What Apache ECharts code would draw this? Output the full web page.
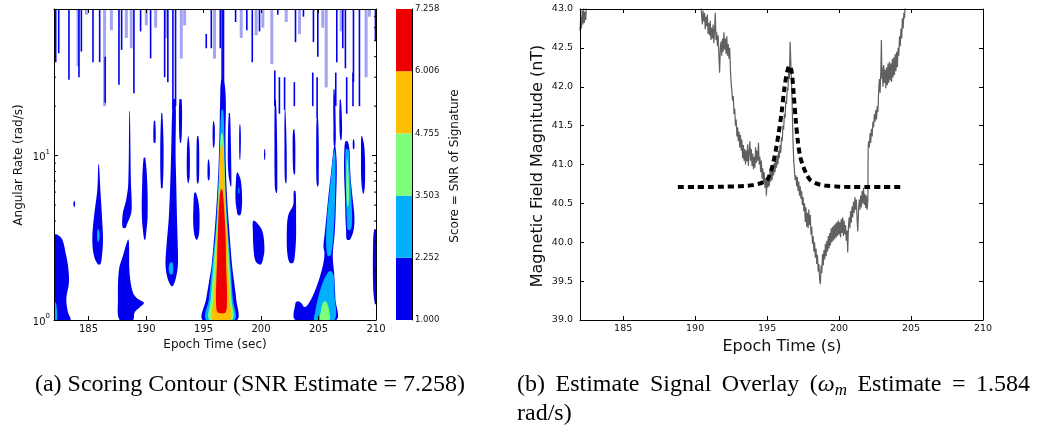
<!DOCTYPE html>
<html><head><meta charset="utf-8">
<script src="https://cdn.jsdelivr.net/npm/echarts@6/dist/echarts.min.js"></script>
<style>html,body{margin:0;padding:0;background:#fff}#c{width:1039px;height:431px}</style>
</head><body><div id="c"></div>
<script>
// ---------- data ----------
const xTicks = [185, 190, 195, 200, 205, 210];
const rateMinorTicks = [2, 3, 4, 5, 6, 7, 8, 9, 20, 30, 40, 50, 60, 70];
const scoreLevels = [1.000, 2.252, 3.503, 4.755, 6.006, 7.258];
const levelColors = ['#0000ee', '#00b0ff', '#7dff7a', '#ffbf00', '#ee0000'];

// contour regions: profiles are rows [rate, timeLeft, timeRight]; polygons are [time, rate]
const blueProfiles = [
  [[1.00,194.94,197.90],[1.34,195.23,197.84],[1.69,195.47,197.67],[2.13,195.70,197.49],[3.39,195.96,197.26],[5.41,196.16,197.06],[8.62,196.31,196.94],[13.7,196.39,196.91],[21.9,196.45,196.94],[28.9,196.54,196.77]],
  [[1.00,182.0,183.42],[1.11,182.0,183.22],[1.34,182.0,183.07],[1.69,182.0,183.3],[2.13,182.0,183.22],[2.56,182.0,183.01],[3.09,182.0,182.72],[3.3,182.0,182.3]],
  [[2.18,185.82,186.03],[2.45,185.48,186.17],[3.09,185.33,186.26],[4.28,185.48,186.17],[6.22,185.77,186.03],[8.82,185.85,185.91]],
  [[3.64,187.99,188.23],[3.81,187.93,188.34],[4.49,187.99,188.72],[5.41,188.28,188.75],[6.82,188.46,188.69],[18.6,188.55,188.6]],
  [[3.09,189.85,189.94],[3.24,189.79,189.99],[4.28,189.64,190.14],[6.82,189.67,190.11],[9.68,189.79,189.94]],
  [[1.61,192.19,192.34],[1.77,191.9,192.57],[2.13,191.7,192.77],[2.69,191.76,192.77],[4.28,191.99,192.69],[6.82,192.11,192.63],[10.4,192.19,192.57],[21.9,192.34,192.57]],
  [[6.36,191.3,191.45],[10.9,191.24,191.53],[18.1,191.33,191.42]],
  [[12.0,190.66,190.83],[16.2,190.68,190.8]],
  [[6.8,193.65,193.7],[7.5,193.56,193.8],[11,193.56,193.8],[13.1,193.65,193.7]],
  [[6.8,194.45,194.55],[7.5,194.4,194.62],[11.5,194.4,194.62],[13.1,194.45,194.55]],
  [[3.09,194.35,194.45],[3.3,194.2,194.6],[4.0,194.1,194.66],[5.0,194.13,194.6],[5.94,194.2,194.35]],
  [[7.1,195.4,195.5],[7.6,195.35,195.55],[8.5,195.35,195.55],[9.46,195.4,195.47]],
  [[11.2,195.85,195.92],[12.2,195.8,195.98],[15,195.8,195.98],[16.2,195.85,195.9]],
  [[6.5,197.35,197.42],[8,197.15,197.42],[12,197.12,197.38],[18.1,197.2,197.3]],
  [[4.35,198.0,198.2],[4.6,197.9,198.3],[5.4,197.78,198.36],[7.0,197.82,198.25],[7.86,197.9,198.0]],
  [[9.5,198.13,198.2],[13,198.1,198.25],[15.4,198.13,198.2]],
  [[2.18,199.8,200.0],[2.3,199.5,200.15],[2.7,199.35,200.3],[3.5,199.29,200.1],[3.99,199.3,199.5]],
  [[9.46,200.28,200.36],[10.9,200.28,200.36]],
  [[5.94,201.3,201.38],[6.5,201.2,201.42],[12,201.17,201.4],[21.9,201.2,201.3]],
  [[6.82,202.12,202.2],[7.5,202.06,202.24],[12,202.04,202.22],[19,202.06,202.12]],
  [[2.23,202.5,202.8],[2.5,202.3,202.95],[3.2,202.24,203.05],[4.3,202.35,203.05],[5.0,202.8,203.05],[6.07,202.85,203.0]],
  [[7.7,202.85,202.95],[8.5,202.78,202.98],[12,202.75,202.98],[14.4,202.8,202.9]],
  [[6.5,204.9,204.98],[7,204.82,205.02],[12,204.8,205.02],[17.3,204.85,204.95]],
  [[11.5,206.33,206.47],[15,206.3,206.5],[25.2,206.3,206.4]],
  [[12.5,206.9,207.0],[15,206.82,207.05],[21.9,206.85,206.95]],
  [[11.0,208.0,208.12],[12.5,208.0,208.1]],
  [[3.09,207.46,207.75],[3.55,207.4,208.06],[4.28,207.34,208.12],[5.41,207.31,207.98],[6.82,207.25,207.83],[8.62,207.22,207.74],[10.9,207.25,207.69],[12.2,207.34,207.54]],
  [[5.9,208.85,208.95],[7,208.72,209.05],[11,208.7,209.0],[13.1,208.72,208.8]],
  [[1.25,209.9,210.0],[1.6,209.75,210.0],[3.0,209.75,210.0],[3.55,209.85,210.0]],
  [[4.85,183.74,183.78],[5.1,183.68,183.84],[5.3,183.74,183.78]],
  [[12.0,192.95,193.05],[14,192.88,193.12],[21.9,192.9,193.1]]
];
const bluePolygons = [
  [[188.43,3.09],[187.99,2.45],[187.65,2.03],[187.56,1.34],[187.71,1.00],[188.86,1.00],[189.01,1.11],[189.44,1.19],[189.82,1.27],[189.3,1.34],[188.86,1.47],[188.57,1.94],[188.52,2.95]],
  [[203.0,1.00],[203.0,1.27],[203.2,1.30],[203.49,1.27],[203.78,1.20],[204.07,1.24],[204.5,1.40],[204.85,1.61],[205.14,1.85],[205.43,2.23],[205.52,2.56],[205.43,2.81],[205.55,3.39],[205.72,4.49],[205.89,5.94],[206.09,7.86],[206.24,9.91],[206.36,11.4],[206.47,11.4],[206.59,8.62],[206.53,5.41],[206.41,3.39],[206.24,2.45],[206.36,1.94],[206.47,1.34],[206.53,1.00]]
];
const cyanProfiles = [
  [[1.00,195.23,197.70],[1.34,195.47,197.55],[2.13,195.75,197.35],[3.39,196.05,197.14],[5.41,196.22,196.97],[8.62,196.37,196.85],[13.7,196.45,196.80],[19.0,196.57,196.71]],
  [[1.0,182.0,182.26],[1.27,182.0,182.18]],
  [[3.0,185.8,185.9],[3.25,185.74,185.97],[3.55,185.8,185.9]],
  [[1.9,192.1,192.3],[2.05,191.97,192.37],[2.23,192.1,192.3]],
  [[3.55,207.54,207.8],[4.09,207.46,207.92],[5.41,207.4,207.86],[8.62,207.34,207.69],[10.9,207.37,207.6]],
  [[5.9,198.03,198.12],[6.4,198.05,198.1]]
];
const cyanPolygons = [
  [[206.27,9.91],[206.36,10.9],[206.47,9.91],[206.44,5.41],[206.3,3.39],[206.09,2.5],[205.8,2.45],[205.66,3.09],[205.78,4.49],[205.95,5.94],[206.12,7.86]],
  [[204.65,1.00],[204.70,1.11],[204.94,1.34],[205.37,1.69],[205.81,1.94],[206.1,1.98],[206.33,1.85],[206.38,1.47],[206.38,1.00]]
];
const greenProfiles = [
  [[1.00,195.52,197.49],[1.34,195.64,197.43],[2.13,195.87,197.26],[3.39,196.10,197.08],[5.41,196.28,196.91],[8.62,196.39,196.82],[12.5,196.48,196.74],[13.7,196.57,196.65]],
  [[4.93,207.5,207.6],[6.0,207.43,207.66],[8.0,207.42,207.6],[9.5,207.45,207.52]]
];
const greenPolygons = [
  [[205.17,1.0],[205.23,1.16],[205.37,1.27],[205.6,1.30],[205.8,1.24],[205.95,1.11],[205.95,1.0]]
];
const orangeProfiles = [
  [[1.00,195.81,197.32],[1.34,195.87,197.26],[2.13,196.05,197.14],[3.39,196.16,197.03],[5.41,196.31,196.85],[8.62,196.42,196.80],[11.4,196.51,196.68]]
];
const redProfiles = [
  [[1.11,196.25,196.91],[1.22,196.10,197.03],[1.61,196.10,197.03],[2.13,196.16,196.97],[3.39,196.25,196.91],[5.41,196.39,196.74],[6.22,196.51,196.63]]
];
// thin vertical streaks near the top: [time, rateLow, rateHigh]
const spikesDark = [
  [182.15,37,78],[182.41,42,78],[183.30,29,78],[184.17,30,78],[184.38,43,78],[185.39,37,78],[185.97,37,78],[186.45,21,40],
  [187.65,27,78],[187.88,44,78],[188.95,24,78],[189.53,57,78],[190.40,39,78],[191.62,30,78],[191.90,28,78],[192.34,19,78],
  [192.57,20,78],[195.24,45,55],[195.68,45,78],[196.46,45,78],[196.62,28,78],[196.74,28,78],[197.79,65,78],[198.77,58,78],
  [199.24,37,78],[199.87,57,78],[201.46,72,78],[203.0,49,78],[203.69,70,78],[204.56,49,78],[204.94,40,78],[206.59,37,78],
  [207.11,45,78],[207.34,34,78],[208.04,28,78],[208.56,20,78],[209.95,50,78],
  [201.2,20,33],[201.6,18,30],[202.05,19,30],[202.9,20,28],[204.5,20,32],[204.88,17,30],[206.5,20,32],[207.45,18,30],[208.0,20,32]
];
const spikesLight = [
  [184.09,35,78],[184.82,72,78],[186.40,20,78],[186.99,58,78],[188.29,52,78],[188.72,45,78],[190.03,62,78],[190.84,60,78],
  [191.77,52,78],[193.07,39,78],[193.36,62,78],[195.96,39,78],[198.28,52,78],[199.58,54,78],[200.16,60,78],[200.94,36,78],
  [202.19,65,78],[203.35,55,78],[205.37,60,78],[205.67,26,78],[206.97,57,78],[209.14,30,78],[209.43,70,78]
];

// magnetometer trace [time s, field nT]
const signalLeft = [[182.0,42.72],[182.05,42.9],[182.1,42.75],[182.15,42.98],[182.2,42.8],[182.25,43.02],[182.3,42.82],[182.35,42.96],[182.4,42.86],[182.45,43.05],[182.5,43.2]];
const signalMain = [
  [190.40,43.05],[190.45,42.92],[190.50,42.80],[190.55,42.98],[190.60,42.84],[190.65,42.95],[190.70,42.74],[190.75,42.90],[190.80,42.78],[190.85,42.93],
  [190.90,42.68],[190.95,42.82],[191.00,42.66],[191.05,42.85],[191.10,42.60],[191.15,42.76],[191.20,42.62],[191.25,42.80],[191.30,42.56],[191.35,42.72],
  [191.40,42.95],[191.45,42.60],[191.50,42.70],[191.55,42.52],[191.60,42.66],[191.65,42.40],[191.70,42.18],[191.75,42.50],[191.80,42.58],[191.85,42.40],
  [191.90,42.62],[191.95,42.45],[192.00,42.70],[192.05,42.48],[192.10,42.62],[192.15,42.42],[192.20,42.65],[192.25,42.40],[192.30,42.55],[192.35,42.36],
  [192.40,42.50],[192.45,42.22],[192.50,42.05],[192.55,41.95],[192.60,41.82],[192.65,41.88],[192.70,41.65],[192.75,41.72],[192.80,41.50],[192.85,41.58],
  [192.90,41.36],[192.95,41.48],[193.00,41.30],[193.05,41.42],[193.10,41.22],[193.15,41.38],[193.20,41.18],[193.25,41.32],[193.30,41.08],[193.35,41.25],
  [193.40,41.05],[193.45,41.20],[193.50,41.00],[193.55,41.18],[193.60,41.04],[193.65,41.26],[193.70,40.98],[193.75,41.15],[193.80,41.30],[193.85,41.05],
  [193.90,41.20],[193.95,40.98],[194.00,41.14],[194.05,40.94],[194.10,41.10],[194.15,40.96],[194.20,41.22],[194.25,41.02],[194.30,41.18],[194.35,41.05],
  [194.40,41.28],[194.45,41.00],[194.50,41.10],[194.55,40.90],[194.60,41.05],[194.65,40.82],[194.70,40.95],[194.75,40.76],[194.80,40.90],[194.85,40.70],
  [194.90,40.82],[194.95,40.60],[195.00,40.84],[195.05,40.70],[195.10,40.86],[195.15,40.72],[195.20,40.92],[195.25,40.78],[195.30,40.95],[195.35,40.80],
  [195.40,41.00],[195.45,40.86],[195.50,41.02],[195.55,40.90],[195.60,41.08],[195.65,40.96],[195.70,41.12],[195.75,41.00],[195.80,41.18],[195.85,41.08],
  [195.90,41.25],[195.95,41.15],[196.00,41.35],[196.05,41.30],[196.10,41.50],[196.15,41.45],[196.20,41.65],[196.25,41.60],[196.30,41.82],[196.35,41.78],
  [196.40,41.98],[196.45,41.95],[196.50,42.22],[196.55,42.10],[196.60,42.58],[196.65,42.30],[196.70,42.05],[196.75,41.70],[196.80,41.30],[196.85,41.05],
  [196.90,40.92],[196.95,40.80],[197.00,40.86],[197.05,40.72],[197.10,40.84],[197.15,40.66],[197.20,40.78],[197.25,40.60],[197.30,40.72],[197.35,40.56],
  [197.40,40.66],[197.45,40.48],[197.50,40.58],[197.55,40.40],[197.60,40.50],[197.65,40.26],[197.70,40.45],[197.75,40.20],[197.80,40.38],[197.85,40.18],
  [197.90,40.42],[197.95,40.22],[198.00,40.35],[198.05,40.10],[198.10,40.20],[198.15,39.98],[198.20,40.08],[198.25,39.88],[198.30,40.00],[198.35,39.80],
  [198.40,39.92],[198.45,39.72],[198.50,39.84],[198.55,39.62],[198.60,39.72],[198.65,39.52],[198.70,39.46],[198.75,39.70],[198.80,39.60],[198.85,39.85],
  [198.90,39.70],[198.95,39.90],[199.00,39.78],[199.05,39.98],[199.10,39.82],[199.15,40.02],[199.20,39.88],[199.25,40.08],[199.30,39.92],[199.35,40.12],
  [199.40,39.96],[199.45,40.18],[199.50,40.00],[199.55,40.20],[199.60,40.02],[199.65,40.22],[199.70,40.04],[199.75,40.24],[199.80,40.06],[199.85,40.26],
  [199.90,40.08],[199.95,40.28],[200.00,40.10],[200.05,40.26],[200.10,40.06],[200.15,40.30],[200.20,40.12],[200.25,40.32],[200.30,40.08],[200.35,40.28],
  [200.40,40.10],[200.45,40.22],[200.50,40.02],[200.55,40.15],[200.60,39.87],[200.65,40.20],[200.70,40.32],[200.75,40.18],[200.80,40.40],[200.85,40.25],
  [200.90,40.46],[200.95,40.32],[201.00,40.52],[201.05,40.38],[201.10,40.58],[201.15,40.42],[201.20,40.55],[201.25,40.30],[201.30,40.14],[201.35,40.40],
  [201.40,40.55],[201.45,40.42],[201.50,40.60],[201.55,40.45],[201.60,40.66],[201.65,40.50],[201.70,40.70],[201.75,40.48],[201.80,40.62],[201.85,40.44],
  [201.90,40.60],[201.95,40.42],[202.00,40.55],[202.02,41.20],[202.05,41.30],[202.10,41.22],[202.15,41.40],[202.20,41.28],[202.25,41.46],[202.30,41.36],
  [202.35,41.55],[202.40,41.48],[202.45,41.65],[202.50,41.55],[202.55,41.70],[202.60,41.58],[202.65,41.75],[202.70,41.68],[202.75,41.95],[202.80,42.10],
  [202.85,41.92],[202.90,42.20],[202.94,42.60],[202.98,42.10],[203.00,42.25],[203.05,42.00],[203.10,42.28],[203.15,42.05],[203.20,42.22],[203.25,41.98],
  [203.30,42.25],[203.35,42.02],[203.40,42.30],[203.45,42.05],[203.50,42.32],[203.55,42.08],[203.60,42.30],[203.65,42.06],[203.70,42.36],[203.75,42.12],
  [203.80,42.38],[203.85,42.15],[203.90,42.42],[203.95,42.20],[204.00,42.45],[204.05,42.25],[204.10,42.50],[204.15,42.40],[204.20,42.65],[204.25,42.52],
  [204.30,42.75],[204.35,42.62],[204.40,42.88],[204.45,42.75],[204.50,42.95],[204.55,42.88],[204.60,43.10]
];
// fitted signature overlay [time s, field nT]
const modelCurve = [
  [188.8,40.71],[190.0,40.71],[191.0,40.71],[192.0,40.715],[193.0,40.72],[193.5,40.725],[194.0,40.735],[194.4,40.75],[194.7,40.77],
  [195.0,40.80],[195.2,40.88],[195.4,41.00],[195.6,41.18],[195.8,41.40],[196.0,41.66],[196.2,41.98],[196.4,42.20],[196.55,42.27],
  [196.7,42.20],[196.85,41.90],[197.0,41.55],[197.15,41.28],[197.3,41.10],[197.5,40.98],[197.75,40.87],[198.0,40.80],[198.5,40.75],
  [199.0,40.73],[200.0,40.715],[201.0,40.71],[202.0,40.71],[203.0,40.71],[204.4,40.71]
];

// ---------- build ----------
function profileToPolygon(rows) {
  const left = rows.map(r => [r[1], r[0]]);
  const right = rows.slice().reverse().map(r => [r[2], r[0]]);
  return left.concat(right);
}
const shapes = [];
[[blueProfiles, bluePolygons], [cyanProfiles, cyanPolygons], [greenProfiles, greenPolygons], [orangeProfiles, []], [redProfiles, []]]
  .forEach(([profs, polys], lvl) => {
    profs.forEach(p => shapes.push({ lvl, pts: profileToPolygon(p) }));
    polys.forEach(p => shapes.push({ lvl, pts: p }));
  });

const SANS = '"DejaVu Sans", sans-serif';
const SERIF = '"Liberation Serif", "Times New Roman", serif';
const TXT = '#111';

function spikeSeries(data, w, color) {
  return {
    type: 'custom', xAxisIndex: 0, yAxisIndex: 0, clip: true, silent: true, z: 2,
    data: data, encode: { x: 0, y: [1, 2] },
    renderItem: (params, api) => {
      const lo = api.coord([api.value(0), api.value(1)]);
      const hi = api.coord([api.value(0), api.value(2)]);
      return { type: 'rect', shape: { x: lo[0] - w / 2, y: hi[1], width: w, height: lo[1] - hi[1] }, style: { fill: color } };
    }
  };
}

const tickCommon = { inside: true, length: 4, lineStyle: { color: '#000', width: 1 } };
const lineCommon = { show: true, lineStyle: { color: '#000', width: 1 } };

// caption (b) justified words
const capFont = '24px ' + SERIF;
const meas = document.createElement('canvas').getContext('2d');
function tw(t, f) { meas.font = f; return meas.measureText(t).width; }
const capRich = {
  w: { fontStyle: 'italic', fontSize: 24, fontFamily: SERIF, lineHeight: 28, color: '#000' },
  m: { fontStyle: 'italic', fontSize: 17, fontFamily: SERIF, lineHeight: 17, verticalAlign: 'bottom', color: '#000' }
};
const capWords = ['(b)', 'Estimate', 'Signal', 'Overlay', '(ω_m', 'Estimate', '=', '1.584'];
const capTokens = capWords.map(wd => {
  if (wd === '(ω_m') {
    return { text: '({w|ω}{m|m}', w: tw('(', capFont) + tw('ω', 'italic ' + capFont) + tw('m', 'italic 17px ' + SERIF) };
  }
  return { text: wd, w: tw(wd, capFont) };
});
const capLeft = 517, capRight = 1030;
const capGap = (capRight - capLeft - capTokens.reduce((a, t) => a + t.w, 0)) / (capTokens.length - 1);
const graphics = [];
let cx = capLeft;
capTokens.forEach(t => {
  graphics.push({ type: 'text', x: cx, y: 385, style: { text: t.text, font: capFont, fill: '#000', align: 'left', verticalAlign: 'middle', rich: capRich } });
  cx += t.w + capGap;
});
graphics.push({ type: 'text', x: 517, y: 414, style: { text: 'rad/s)', font: capFont, fill: '#000', align: 'left', verticalAlign: 'middle' } });
graphics.push({ type: 'text', x: 250, y: 385, style: { text: '(a) Scoring Contour (SNR Estimate = 7.258)', font: capFont, fill: '#000', align: 'center', verticalAlign: 'middle' } });
// axis titles
graphics.push({ type: 'text', x: 19, y: 165, rotation: Math.PI / 2, style: { text: 'Angular Rate (rad/s)', font: '12px ' + SANS, fill: TXT, align: 'center', verticalAlign: 'middle' } });
graphics.push({ type: 'text', x: 215, y: 345, style: { text: 'Epoch Time (sec)', font: '12px ' + SANS, fill: TXT, align: 'center', verticalAlign: 'middle' } });
graphics.push({ type: 'text', x: 455, y: 166, rotation: Math.PI / 2, style: { text: 'Score = SNR of Signature', font: '12px ' + SANS, fill: TXT, align: 'center', verticalAlign: 'middle' } });
graphics.push({ type: 'text', x: 538, y: 166, rotation: Math.PI / 2, style: { text: 'Magnetic Field Magnitude (nT)', font: '16px ' + SANS, fill: TXT, align: 'center', verticalAlign: 'middle' } });
graphics.push({ type: 'text', x: 782, y: 347, style: { text: 'Epoch Time (s)', font: '16px ' + SANS, fill: TXT, align: 'center', verticalAlign: 'middle' } });

const chart = echarts.init(document.getElementById('c'), null, { renderer: 'canvas', width: 1039, height: 431 });
chart.setOption({
  animation: false,
  backgroundColor: '#fff',
  grid: [
    { left: 54, top: 9, width: 322, height: 311, show: false },
    { left: 396, top: 9, width: 16, height: 311, show: false },
    { left: 580, top: 9, width: 403, height: 311, show: false }
  ],
  xAxis: [
    { gridIndex: 0, type: 'value', min: 182, max: 210, position: 'bottom', z: 5, splitLine: { show: false },
      axisLine: lineCommon, axisTick: Object.assign({ customValues: xTicks }, tickCommon),
      axisLabel: { customValues: xTicks, fontSize: 10, fontFamily: SANS, color: TXT, margin: 4 } },
    { gridIndex: 0, type: 'value', min: 182, max: 210, position: 'top', z: 5, splitLine: { show: false },
      axisLine: lineCommon, axisTick: Object.assign({ customValues: xTicks }, tickCommon), axisLabel: { show: false } },
    { gridIndex: 1, type: 'category', data: ['score'], show: false, boundaryGap: true },
    { gridIndex: 2, type: 'value', min: 182, max: 210, position: 'bottom', z: 5, splitLine: { show: false },
      axisLine: lineCommon, axisTick: Object.assign({ customValues: xTicks }, tickCommon),
      axisLabel: { customValues: xTicks, fontSize: 9.5, fontFamily: SANS, color: TXT, margin: 4 } },
    { gridIndex: 2, type: 'value', min: 182, max: 210, position: 'top', z: 5, splitLine: { show: false },
      axisLine: lineCommon, axisTick: Object.assign({ customValues: xTicks }, tickCommon), axisLabel: { show: false } }
  ],
  yAxis: [
    { gridIndex: 0, type: 'log', logBase: 10, min: 1, max: 78, position: 'left', z: 5, splitLine: { show: false },
      axisLine: lineCommon, axisTick: tickCommon,
      axisLabel: { margin: 4, color: TXT,
        formatter: v => { const e = Math.log10(v); const r = Math.round(e); return Math.abs(e - r) < 1e-6 ? '{b|10}{s|' + r + '}' : ''; },
        rich: { b: { fontSize: 10, fontFamily: SANS, color: TXT, lineHeight: 14, verticalAlign: 'bottom' },
                s: { fontSize: 7, fontFamily: SANS, color: TXT, lineHeight: 8, verticalAlign: 'top' } } } },
    { gridIndex: 0, type: 'log', logBase: 10, min: 1, max: 78, position: 'right', z: 5, splitLine: { show: false },
      axisLine: lineCommon, axisTick: tickCommon, axisLabel: { show: false } },
    { gridIndex: 1, type: 'value', min: 0, max: 5, interval: 1, position: 'right', z: 5, splitLine: { show: false },
      axisLine: lineCommon, axisTick: { inside: true, length: 3, lineStyle: { color: '#000' } },
      axisLabel: { margin: 3, fontSize: 8.5, fontFamily: SANS, color: TXT, formatter: v => scoreLevels[Math.round(v)].toFixed(3) } },
    { gridIndex: 2, type: 'value', min: 39, max: 43, interval: 0.5, position: 'left', z: 5, splitLine: { show: false },
      axisLine: lineCommon, axisTick: tickCommon,
      axisLabel: { margin: 7, fontSize: 9.5, fontFamily: SANS, color: TXT, formatter: v => v.toFixed(1) } },
    { gridIndex: 2, type: 'value', min: 39, max: 43, interval: 0.5, position: 'right', z: 5, splitLine: { show: false },
      axisLine: lineCommon, axisTick: tickCommon, axisLabel: { show: false } }
  ],
  graphic: graphics,
  series: [
    spikeSeries(spikesLight, 3, '#a4a4f4'),
    {
      type: 'custom', xAxisIndex: 0, yAxisIndex: 0, clip: true, silent: true, z: 3,
      data: shapes.map(s => [s.pts[0][0], s.pts[0][1]]), encode: { x: 0, y: 1 },
      renderItem: (params, api) => {
        const s = shapes[params.dataIndex];
        return { type: 'polygon', shape: { points: s.pts.map(p => api.coord(p)), smooth: 0.35 },
                 style: { fill: levelColors[s.lvl], stroke: null } };
      }
    },
    spikeSeries(spikesDark, 1.6, '#0000ee'),
    {
      type: 'custom', xAxisIndex: 0, yAxisIndex: 0, silent: true, z: 6,
      data: rateMinorTicks.map(v => [182, v]), encode: { x: 0, y: 1 },
      renderItem: (params, api) => {
        const v = api.value(1);
        const a = api.coord([182, v]), b = api.coord([210, v]);
        return { type: 'group', children: [
          { type: 'line', shape: { x1: a[0], y1: a[1], x2: a[0] + 2, y2: a[1] }, style: { stroke: '#000', lineWidth: 1 } },
          { type: 'line', shape: { x1: b[0] - 2, y1: b[1], x2: b[0], y2: b[1] }, style: { stroke: '#000', lineWidth: 1 } }
        ] };
      }
    },
    ...levelColors.map(c => ({ type: 'bar', xAxisIndex: 2, yAxisIndex: 2, stack: 'cb', data: [1], barWidth: '100%', silent: true, itemStyle: { color: c } })),
    { type: 'line', xAxisIndex: 3, yAxisIndex: 3, data: signalLeft, showSymbol: false, clip: true, silent: true,
      lineStyle: { color: '#606060', width: 1.2 } },
    { type: 'line', xAxisIndex: 3, yAxisIndex: 3, data: signalMain, showSymbol: false, clip: true, silent: true,
      lineStyle: { color: '#606060', width: 1.2 } },
    { type: 'line', xAxisIndex: 3, yAxisIndex: 3, data: modelCurve, showSymbol: false, clip: true, silent: true, smooth: 0.3, z: 4,
      lineStyle: { color: '#000', width: 4, type: [6, 4], cap: 'butt' } }
  ]
});
</script></body></html>
